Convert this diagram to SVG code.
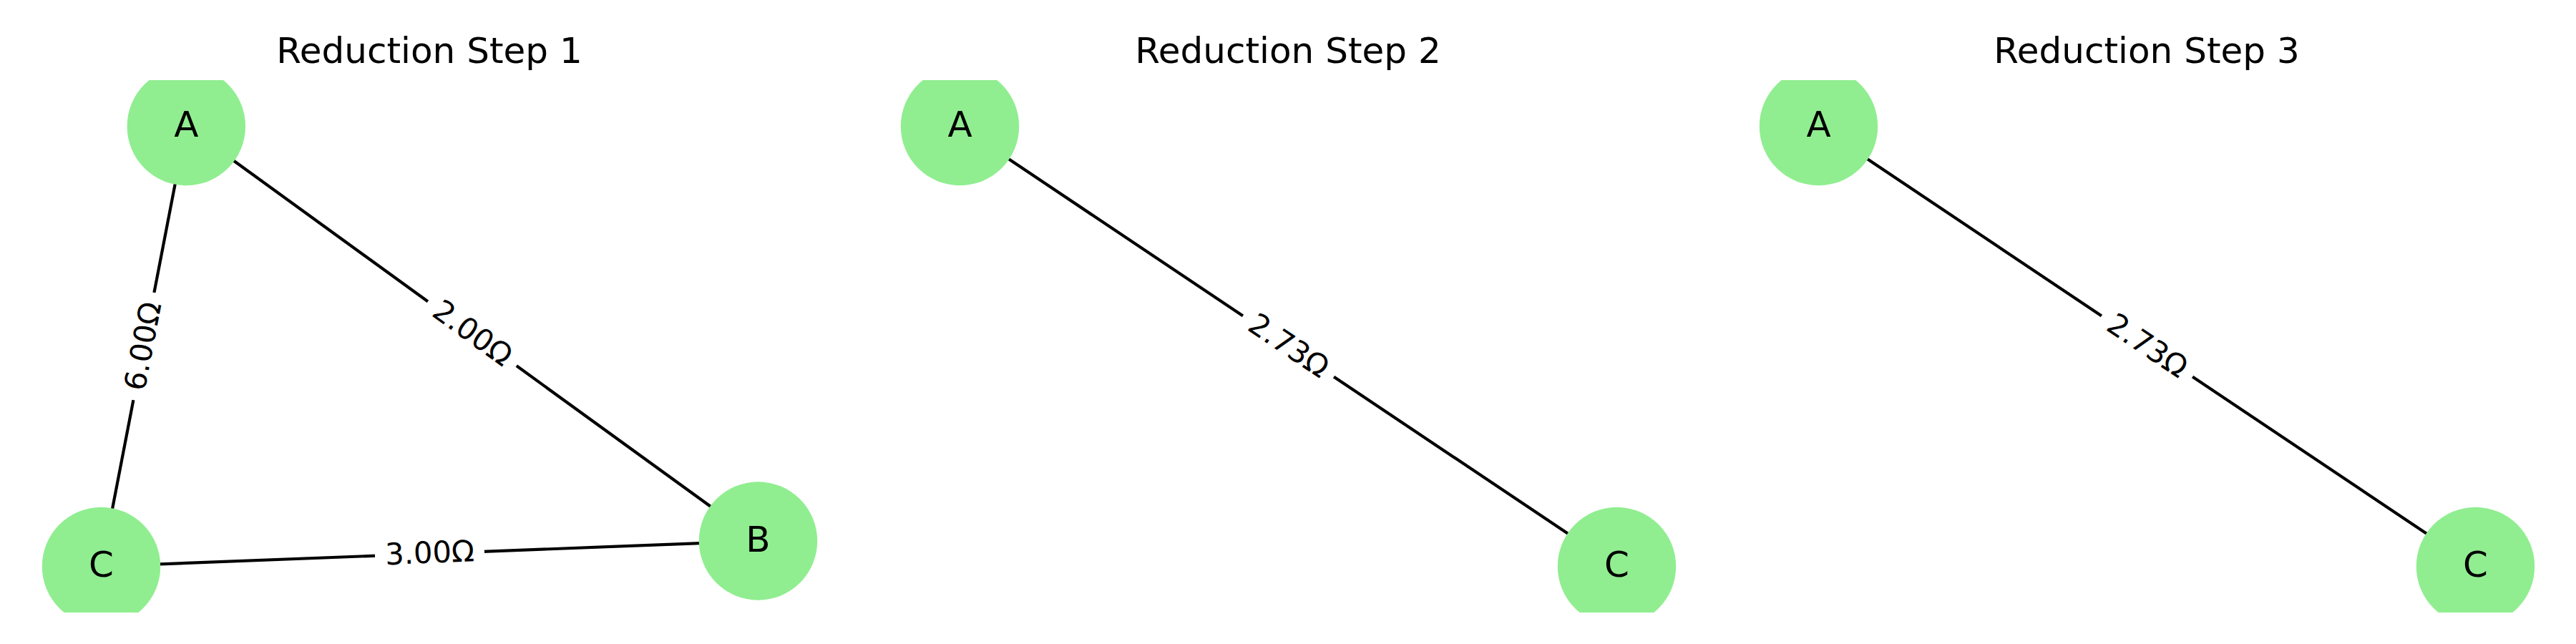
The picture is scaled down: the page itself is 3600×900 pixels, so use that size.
<svg xmlns="http://www.w3.org/2000/svg" width="3600" height="900" viewBox="0 0 3600 900">
  <style>
    .title { font-family: "DejaVu Sans", sans-serif; font-size: 50px; fill: #000; text-anchor: middle; }
    .node circle { fill: #90EE90; stroke: none; }
    .node text { font-family: "DejaVu Sans", sans-serif; font-size: 50px; fill: #000; text-anchor: middle; }
    .edge { stroke: #000; stroke-width: 4.2; fill: none; }
    .elabel rect { fill: #fff; stroke: #fff; stroke-width: 1; }
    .elabel text { font-family: "DejaVu Sans", sans-serif; font-size: 41.7px; fill: #000; text-anchor: middle; }
  </style>
  <defs>
    <clipPath id="axclip">
      <rect x="0" y="112" width="3600" height="744"/>
    </clipPath>
  </defs>
  <rect x="0" y="0" width="3600" height="900" fill="#fff"/>

  <g id="titles">
    <text class="title" x="600" y="88">Reduction Step 1</text>
    <text class="title" x="1800" y="88">Reduction Step 2</text>
    <text class="title" x="3000" y="88">Reduction Step 3</text>
  </g>

  <g id="connectors">
    <!-- Step 1 -->
    <line class="edge" x1="260.3" y1="176.5" x2="1059.5" y2="756"/>
    <line class="edge" x1="260.3" y1="176.5" x2="141.5" y2="791.5"/>
    <line class="edge" x1="141.5" y1="791.5" x2="1059.5" y2="756"/>
    <!-- Step 2 -->
    <line class="edge" x1="1341.5" y1="176.5" x2="2259.5" y2="791.5"/>
    <!-- Step 3 -->
    <line class="edge" x1="2541.5" y1="176.5" x2="3459.5" y2="791.5"/>

    <g class="elabel" transform="translate(659.9,466.25) rotate(35.9)">
      <rect x="-76" y="-37" width="152" height="74" rx="10"/>
      <text x="0" y="13">2.00Ω</text>
    </g>
    <g class="elabel" transform="translate(200.9,484) rotate(-79.1)">
      <rect x="-76" y="-37" width="152" height="74" rx="10"/>
      <text x="0" y="13">6.00Ω</text>
    </g>
    <g class="elabel" transform="translate(600.5,773.75) rotate(-2.2)">
      <rect x="-76" y="-37" width="152" height="74" rx="10"/>
      <text x="0" y="13">3.00Ω</text>
    </g>
    <g class="elabel" transform="translate(1800.5,484) rotate(33.8)">
      <rect x="-76" y="-37" width="152" height="74" rx="10"/>
      <text x="0" y="13">2.73Ω</text>
    </g>
    <g class="elabel" transform="translate(3000.5,484) rotate(33.8)">
      <rect x="-76" y="-37" width="152" height="74" rx="10"/>
      <text x="0" y="13">2.73Ω</text>
    </g>
  </g>

  <g id="s1-A" class="node">
    <circle cx="260.3" cy="176.5" r="82.7" clip-path="url(#axclip)"/>
    <text x="260.3" y="191">A</text>
  </g>
  <g id="s1-B" class="node">
    <circle cx="1059.5" cy="756" r="82.7" clip-path="url(#axclip)"/>
    <text x="1059.5" y="770.5">B</text>
  </g>
  <g id="s1-C" class="node">
    <circle cx="141.5" cy="791.5" r="82.7" clip-path="url(#axclip)"/>
    <text x="141.5" y="806">C</text>
  </g>

  <g id="s2-A" class="node">
    <circle cx="1341.5" cy="176.5" r="82.7" clip-path="url(#axclip)"/>
    <text x="1341.5" y="191">A</text>
  </g>
  <g id="s2-C" class="node">
    <circle cx="2259.5" cy="791.5" r="82.7" clip-path="url(#axclip)"/>
    <text x="2259.5" y="806">C</text>
  </g>

  <g id="s3-A" class="node">
    <circle cx="2541.5" cy="176.5" r="82.7" clip-path="url(#axclip)"/>
    <text x="2541.5" y="191">A</text>
  </g>
  <g id="s3-C" class="node">
    <circle cx="3459.5" cy="791.5" r="82.7" clip-path="url(#axclip)"/>
    <text x="3459.5" y="806">C</text>
  </g>
</svg>
